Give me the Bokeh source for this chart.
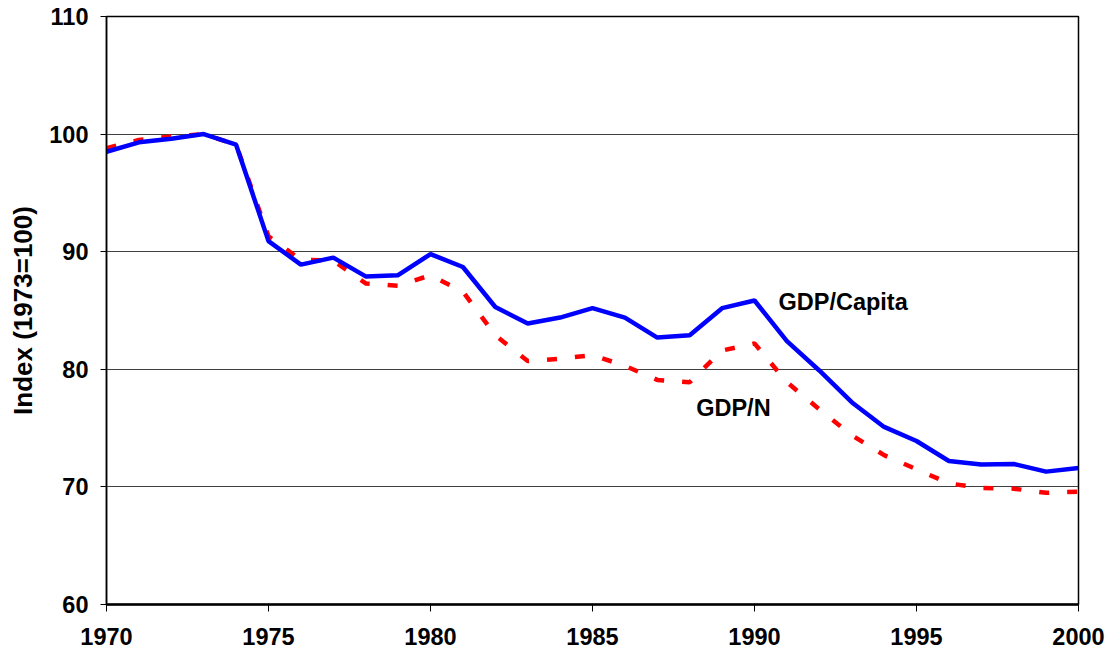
from bokeh.plotting import figure
from bokeh.models import Range1d, FixedTicker, Label
from bokeh.embed import file_html
from bokeh.resources import INLINE

years = list(range(1970, 2001))
gdp_capita = [98.5, 99.3, 99.6, 100.0, 99.1, 90.9, 88.9, 89.5, 87.9, 88.0,
              89.8, 88.7, 85.3, 83.9, 84.4, 85.2, 84.4, 82.7, 82.9, 85.2,
              85.85, 82.4, 79.9, 77.2, 75.1, 73.9, 72.2, 71.9, 71.95, 71.3, 71.6]
gdp_n = [98.8, 99.5, 99.8, 100.0, 99.1, 91.3, 89.3, 89.25, 87.3, 87.1,
         88.0, 86.6, 82.9, 80.7, 80.9, 81.2, 80.3, 79.1, 78.9, 81.6,
         82.2, 78.9, 76.6, 74.4, 72.7, 71.5, 70.3, 69.9, 69.85, 69.5, 69.6]
x_ticks = [1970, 1975, 1980, 1985, 1990, 1995, 2000]
y_ticks = [60, 70, 80, 90, 100, 110]

FONT = "Liberation Sans"

p = figure(width=1106, height=650, output_backend="svg", toolbar_location=None,
           x_range=Range1d(1970, 2000), y_range=Range1d(60, 110),
           min_border_left=106, min_border_right=28, min_border_top=16, min_border_bottom=46)
p.background_fill_color = "white"
p.border_fill_color = "white"
p.outline_line_color = "black"
p.outline_line_width = 1.5

p.xgrid.visible = False
p.ygrid.grid_line_color = "#404040"
p.ygrid.grid_line_width = 1.2

p.line(years, gdp_n, line_color="#FF0000", line_width=4.5, line_dash="10 18")
p.line(years, gdp_capita, line_color="#0000FF", line_width=4.5)

p.xaxis.ticker = FixedTicker(ticks=x_ticks)
p.yaxis.ticker = FixedTicker(ticks=y_ticks)
for ax in (p.xaxis[0], p.yaxis[0]):
    ax.major_label_text_font = FONT
    ax.major_label_text_font_style = "bold"
    ax.major_label_text_font_size = "23.5px"
    ax.major_label_text_color = "black"
    ax.axis_line_color = "black"
    ax.major_tick_line_color = "black"
    ax.minor_tick_line_color = None
    ax.major_tick_in = 0
p.xaxis.axis_line_width = 2.5
p.yaxis.axis_line_width = 1.5
p.xaxis.major_tick_out = 7
p.yaxis.major_tick_out = 6
p.xaxis.major_label_standoff = 16
p.yaxis.major_label_standoff = 12

p.yaxis.axis_label = "Index (1973=100)"
p.yaxis.axis_label_text_font = FONT
p.yaxis.axis_label_text_font_style = "bold"
p.yaxis.axis_label_text_font_size = "26px"
p.yaxis.axis_label_text_color = "black"
p.yaxis.axis_label_standoff = 8

p.add_layout(Label(x=1990.74, y=85.7, text="GDP/Capita", text_font=FONT,
                   text_font_style="bold", text_font_size="23.5px",
                   text_baseline="middle", text_color="black"))
p.add_layout(Label(x=1988.2, y=76.7, text="GDP/N", text_font=FONT,
                   text_font_style="bold", text_font_size="23.5px",
                   text_baseline="middle", text_color="black"))

open("out.html", "w").write(file_html(p, INLINE))
